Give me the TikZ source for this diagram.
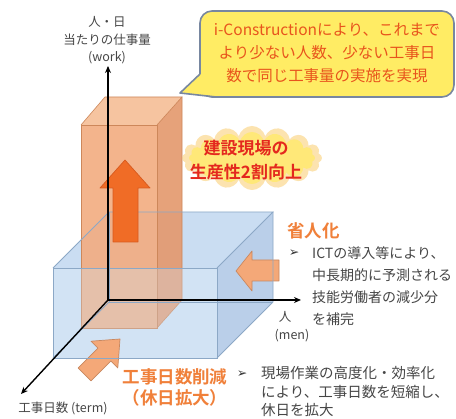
\documentclass[tikz,border=0pt]{standalone}
\usepackage{fontspec}
\setmainfont{Noto Sans CJK JP}[BoldFont={Noto Sans CJK JP Bold}]
\newfontfamily\symf{DejaVu Sans}
\usetikzlibrary{arrows.meta,shapes.symbols}
\definecolor{bluefront}{RGB}{210,227,244}
\definecolor{bluetop}{RGB}{202,221,242}
\definecolor{blueside}{RGB}{186,207,233}
\definecolor{blueedge}{RGB}{140,168,198}
\definecolor{orfront}{RGB}{242,172,128}
\definecolor{ortop}{RGB}{246,190,150}
\definecolor{orside}{RGB}{228,152,108}
\definecolor{oredge}{RGB}{205,135,90}
\definecolor{uparrow}{RGB}{240,108,38}
\definecolor{uparrowedge}{RGB}{215,90,30}
\definecolor{ptrfill}{RGB}{244,168,120}
\definecolor{ptredge}{RGB}{200,135,95}
\definecolor{bubblefill}{RGB}{255,236,100}
\definecolor{bubbleedge}{RGB}{120,135,160}
\definecolor{bubbletext}{RGB}{232,84,28}
\definecolor{cloudtext}{RGB}{228,40,30}
\definecolor{cloudfill}{RGB}{255,232,120}
\definecolor{cloudglow}{RGB}{250,205,110}
\definecolor{orlabel}{RGB}{240,128,58}
\definecolor{graytext}{RGB}{70,70,70}
\begin{document}
\begin{tikzpicture}[x=1pt,y=-1pt,
  axis/.style={line width=1.4pt,-{Stealth[length=7pt,width=6pt]}},
  bedge/.style={draw=blueedge,line width=0.8pt},
  oedge/.style={draw=oredge,line width=0.6pt},
  ptr/.style={fill=ptrfill,draw=ptredge,line width=0.7pt,line join=round},
  graylbl/.style={text=graytext,font=\fontsize{12.5}{15}\selectfont,inner sep=0pt},
  bullettxt/.style={text=graytext,anchor=west,inner sep=0pt,font=\fontsize{14}{17}\selectfont},
  orbold/.style={text=orlabel,inner sep=0pt,font=\bfseries\fontsize{17.5}{21}\selectfont},
  bulletmark/.style={text=black!80,inner sep=0pt,font=\symf\fontsize{12.5}{14}\selectfont}
]
\useasboundingbox (0,0) rectangle (456,419);
\fill[white] (0,0) rectangle (456,419);

% blue box corners
\coordinate (bFTL) at (53,268); \coordinate (bFTR) at (217,268);
\coordinate (bFBR) at (217,358); \coordinate (bFBL) at (53,358);
\coordinate (bBTL) at (109,212); \coordinate (bBTR) at (273,212);
\coordinate (bBBR) at (273,302); \coordinate (bBBL) at (109,302);
% orange box corners
\coordinate (oFTL) at (81,125); \coordinate (oFTR) at (157,125);
\coordinate (oFBR) at (157,328); \coordinate (oFBL) at (81,328);
\coordinate (oBTL) at (105,97); \coordinate (oBTR) at (182,97);
\coordinate (oBBR) at (182,300); \coordinate (oBBL) at (105,300);

% blue box faces
\fill[bluefront] (bFTL) -- (bFTR) -- (bFBR) -- (bFBL) -- cycle;
\fill[bluetop] (bFTL) -- (bFTR) -- (bBTR) -- (bBTL) -- cycle;
\fill[blueside] (bFTR) -- (bBTR) -- (bBBR) -- (bFBR) -- cycle;

% orange box
\begin{scope}[opacity=0.9]
\fill[orfront] (oFTL) -- (oFTR) -- (oFBR) -- (oFBL) -- cycle;
\fill[ortop] (oFTL) -- (oFTR) -- (oBTR) -- (oBTL) -- cycle;
\fill[orside] (oFTR) -- (oBTR) -- (oBBR) -- (oFBR) -- cycle;
\end{scope}
\draw[oedge] (oFTL) -- (oFTR) -- (oFBR) -- (oFBL) -- cycle;
\draw[oedge] (oFTL) -- (oBTL) -- (oBTR) -- (oFTR);
\draw[oedge] (oBTR) -- (oBBR) -- (oFBR);

% blue front face tint over the orange column
\fill[bluefront,opacity=0.3] (bFTL) -- (bFTR) -- (bFBR) -- (bFBL) -- cycle;

% pointer arrows
\draw[ptr] (236,271) -- (252,251) -- (252,260) -- (279,260) -- (279,281) -- (252,281) -- (252,291) -- cycle;
\draw[ptr] (120,339) -- (117.8,368.0) -- (110.8,361.0) -- (91.0,380.8) -- (78.2,368.0) -- (98.0,348.2) -- (91.0,341.2) -- cycle;

% blue box edges
\draw[bedge] (bFTL) -- (bFTR) -- (bFBR) -- (bFBL) -- cycle;
\draw[bedge] (bFTL) -- (bBTL) -- (bBTR) -- (bFTR);
\draw[bedge] (bBTR) -- (bBBR) -- (bFBR);
\draw[bedge] (bBTL) -- (bBBL) -- (bBBR);
\draw[bedge] (bBBL) -- (bFBL);

% up arrow
\draw[fill=uparrow,draw=uparrowedge,line width=0.7pt,line join=round]
  (125,160) -- (150,188) -- (138,188) -- (138,242) -- (113,242) -- (113,188) -- (100,188) -- cycle;

% axes
\coordinate (O) at (108,300);
\coordinate (W) at (108,66);
\coordinate (M) at (301,300);
\coordinate (T) at (21,394);
\draw[axis] (O) -- (W);
\draw[axis] (O) -- (M);
\draw[axis] (O) -- (T);

% axis labels
\node[graylbl] (lw1) at (107,22) {人・日};
\node[graylbl] (lw2) at (107,40) {当たりの仕事量};
\node[graylbl] (lw3) at (107,58) {(work)};
\node[graylbl] (lm1) at (285,317) {人};
\node[graylbl] (lm2) at (292,336) {(men)};
\node[graylbl] (lt) at (63,408) {工事日数 (term)};

% callout bubble
\draw[fill=bubblefill,draw=bubbleedge,line width=1.6pt,rounded corners=12pt] (200,11) rectangle (454,97);
\path[fill=bubblefill] (200.8,74) -- (180,93) -- (216,96.2) -- cycle;
\draw[draw=bubbleedge,line width=1.6pt,line join=round] (200,74) -- (180,93) -- (216,97);
\node[text=bubbletext,align=center,inner sep=0pt,font=\fontsize{15.5}{23}\selectfont] (bub) at (327,53)
  {i-Constructionにより、これまで\\より少ない人数、少ない工事日\\数で同じ工事量の実施を実現};

% cloud
\node[cloud,cloud puffs=16,aspect=2.5,fill=cloudglow,opacity=0.55,minimum width=140pt,minimum height=64pt] (cg) at (252,158) {};
\node[cloud,cloud puffs=16,aspect=2.5,fill=cloudfill,minimum width=126pt,minimum height=52pt] (cf) at (252,158) {};
\node[text=cloudtext,align=center,inner sep=0pt,font=\bfseries\fontsize{17}{24}\selectfont] (ct) at (246,160)
  {建設現場の\\生産性2割向上};

% right labels
\node[orbold,anchor=west] (sj) at (287,231) {省人化};
\node[bulletmark] (bm1) at (294,253) {➢};
\node[bullettxt] (b11) at (312,253) {ICTの導入等により、};
\node[bullettxt] (b12) at (312,275) {中長期的に予測される};
\node[bullettxt] (b13) at (312,297) {技能労働者の減少分};
\node[bullettxt] (b14) at (312,319) {を補完};

% bottom labels
\node[orbold] (kj1) at (175,377) {工事日数削減};
\node[orbold] (kj2) at (175,398) {（休日拡大）};
\node[bulletmark] (bm2) at (242,374) {➢};
\node[bullettxt,font=\fontsize{14.5}{17}\selectfont] (b21) at (261,373) {現場作業の高度化・効率化};
\node[bullettxt,font=\fontsize{14.5}{17}\selectfont] (b22) at (261,392) {により、工事日数を短縮し、};
\node[bullettxt,font=\fontsize{14.5}{17}\selectfont] (b23) at (261,410) {休日を拡大};
\end{tikzpicture}
\end{document}
